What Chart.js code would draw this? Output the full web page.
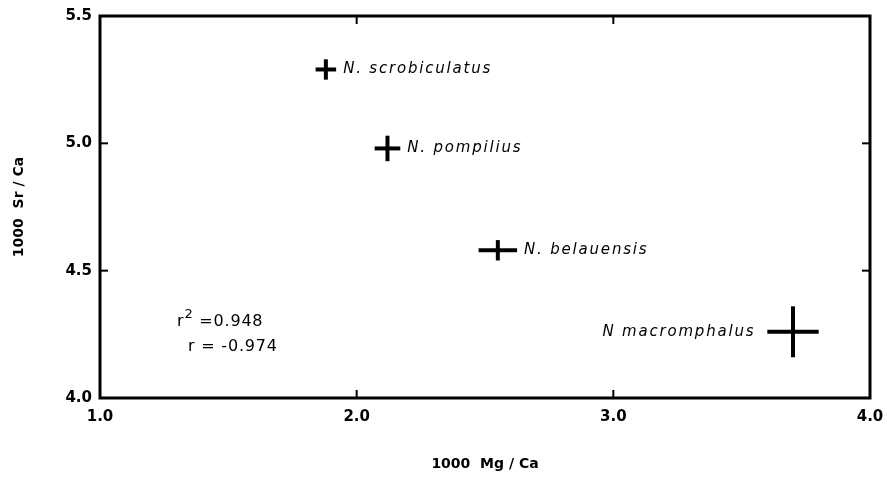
<!DOCTYPE html>
<html>
<head>
<meta charset="utf-8">
<script src="https://cdn.jsdelivr.net/npm/chart.js@4.4.1/dist/chart.umd.min.js"></script>
<style>
  html, body { margin: 0; padding: 0; background: #fff; }
  canvas { display: block; }
</style>
</head>
<body>
<canvas id="graficoSrMg" width="887" height="480"></canvas>
<script>
// data
const species = ["N. scrobiculatus", "N. pompilius", "N. belauensis", "N macromphalus"];
const mgCa = [1.88, 2.12, 2.55, 3.70];
const srCa = [5.29, 4.98, 4.58, 4.26];
const mgErr = [0.04, 0.05, 0.075, 0.10];
const srErr = [0.04, 0.05, 0.04, 0.10];
const labelSide = ["right", "right", "right", "left"];

const xTicks = [1.0, 2.0, 3.0, 4.0];
const yTicks = [4.0, 4.5, 5.0, 5.5];

const statNames = ["r", "r"];
const statSup = ["2", ""];
const statText = [" =0.948", " = -0.974"];

// where the r / r^2 note sits (data coords) and its indent per line
const statAnchor = { x: 1.30, y: 4.31, lineGap: 25, indent: [0, 11] };

const tickFont = { family: "DejaVu Sans", size: 15, weight: "bold" };
const titleFont = { family: "DejaVu Sans", size: 14, weight: "bold" };

const overlay = {
  id: "overlay",
  afterDatasetsDraw(chart) {
    const ctx = chart.ctx;
    const a = chart.chartArea;
    const x = chart.scales.x;
    const y = chart.scales.y;
    const line = (x1, y1, x2, y2) => {
      ctx.beginPath();
      ctx.moveTo(x1, y1);
      ctx.lineTo(x2, y2);
      ctx.stroke();
    };

    ctx.save();
    ctx.strokeStyle = "#000";
    ctx.fillStyle = "#000";

    // frame
    ctx.lineWidth = 3;
    ctx.strokeRect(a.left, a.top, a.width, a.height);

    // inward ticks on all four sides
    ctx.lineWidth = 2;
    xTicks.slice(1, -1).forEach(function (v) {
      const px = x.getPixelForValue(v);
      line(px, a.bottom, px, a.bottom - 8);
      line(px, a.top, px, a.top + 8);
    });
    yTicks.slice(1, -1).forEach(function (v) {
      const py = y.getPixelForValue(v);
      line(a.left, py, a.left + 8, py);
      line(a.right, py, a.right - 8, py);
    });

    // error crosses
    ctx.lineWidth = 4;
    mgCa.forEach(function (mx, i) {
      const cy = y.getPixelForValue(srCa[i]);
      const cx = x.getPixelForValue(mx);
      line(x.getPixelForValue(mx - mgErr[i]), cy, x.getPixelForValue(mx + mgErr[i]), cy);
      line(cx, y.getPixelForValue(srCa[i] - srErr[i]), cx, y.getPixelForValue(srCa[i] + srErr[i]));
    });

    // species names
    ctx.font = "italic 15px 'DejaVu Sans'";
    ctx.letterSpacing = "1.8px";
    ctx.textBaseline = "middle";
    species.forEach(function (name, i) {
      const cy = y.getPixelForValue(srCa[i]);
      if (labelSide[i] === "left") {
        ctx.textAlign = "right";
        ctx.fillText(name, x.getPixelForValue(mgCa[i] - mgErr[i]) - 12, cy);
      } else {
        ctx.textAlign = "left";
        ctx.fillText(name, x.getPixelForValue(mgCa[i] + mgErr[i]) + 7, cy);
      }
    });

    // r^2 / r note
    ctx.letterSpacing = "0.8px";
    ctx.textAlign = "left";
    ctx.textBaseline = "alphabetic";
    const sx = x.getPixelForValue(statAnchor.x);
    const sy = y.getPixelForValue(statAnchor.y);
    statNames.forEach(function (n, i) {
      let px = sx + statAnchor.indent[i];
      const py = sy + i * statAnchor.lineGap + 7;
      ctx.font = "16px 'DejaVu Sans'";
      ctx.fillText(n, px, py);
      px += ctx.measureText(n).width;
      if (statSup[i]) {
        ctx.font = "13px 'DejaVu Sans'";
        ctx.fillText(statSup[i], px, py - 8);
        px += ctx.measureText(statSup[i]).width;
      }
      ctx.font = "16px 'DejaVu Sans'";
      ctx.fillText(statText[i], px, py);
    });

    ctx.restore();
  },
};

const ctx = document.getElementById("graficoSrMg").getContext("2d");

new Chart(ctx, {
  type: "scatter",
  data: {
    datasets: [
      {
        label: "Sr/Ca vs Mg/Ca",
        data: mgCa.map((v, i) => ({ x: v, y: srCa[i] })),
        pointRadius: 0,
        showLine: false,
      },
    ],
  },
  options: {
    responsive: false,
    animation: false,
    devicePixelRatio: 1,
    layout: { padding: { top: 16, right: 17, left: 0, bottom: 0 } },
    plugins: {
      legend: { display: false },
      tooltip: { enabled: false },
    },
    scales: {
      x: {
        type: "linear",
        min: 1,
        max: 4,
        afterBuildTicks: (s) => { s.ticks = xTicks.map((v) => ({ value: v })); },
        afterFit: (s) => {
          s.height = 82;
          s.paddingLeft = 0;
          s.paddingRight = 0;
        },
        grid: { display: false, tickLength: 0, drawTicks: false },
        border: { display: false },
        ticks: {
          color: "#000",
          font: tickFont,
          padding: 10,
          maxRotation: 0,
          autoSkip: false,
          callback: (v) => Number(v).toFixed(1),
        },
        title: {
          display: true,
          text: "1000  Mg / Ca",
          color: "#000",
          font: titleFont,
          padding: { top: 0, bottom: 7 },
        },
      },
      y: {
        type: "linear",
        min: 4,
        max: 5.5,
        afterBuildTicks: (s) => { s.ticks = yTicks.map((v) => ({ value: v })); },
        afterFit: (s) => {
          s.width = 100;
          s.paddingTop = 0;
          s.paddingBottom = 0;
        },
        grid: { display: false, tickLength: 0, drawTicks: false },
        border: { display: false },
        ticks: {
          color: "#000",
          font: tickFont,
          padding: 8,
          autoSkip: false,
          callback: (v) => Number(v).toFixed(1),
        },
        title: {
          display: true,
          text: "1000  Sr / Ca",
          color: "#000",
          font: titleFont,
          padding: { top: 11, bottom: 0 },
        },
      },
    },
  },
  plugins: [overlay],
});
</script>
</body>
</html>
